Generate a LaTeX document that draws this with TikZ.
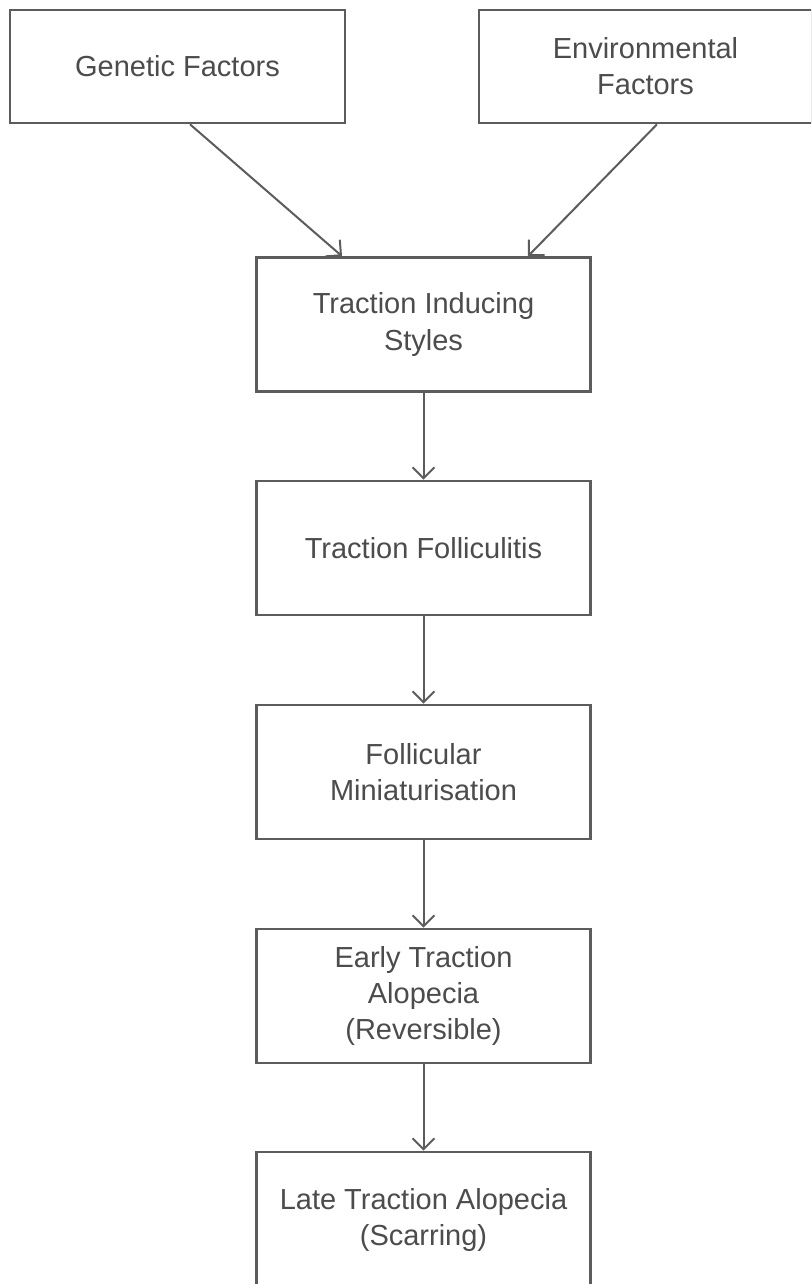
\documentclass[tikz,border=0pt]{standalone}
\usepackage{fontspec}
\setmainfont{Liberation Sans}
\usetikzlibrary{arrows.meta}
\definecolor{edgegray}{rgb}{0.36,0.36,0.36}
\definecolor{textgray}{rgb}{0.30,0.30,0.30}
\tikzset{
  box/.style={draw=edgegray, line width=2.6pt, rectangle, inner sep=0pt,
    minimum width=334pt, minimum height=134pt, align=center,
    text=textgray, font=\fontsize{29}{36}\selectfont},
  link/.style={draw=edgegray, line width=2pt,
    -{Straight Barb[length=11pt, width=22pt, line width=2pt]}}
}
\begin{document}
\begin{tikzpicture}[x=1pt, y=-1pt]
  \useasboundingbox (0,0) rectangle (811,1284);
  \clip (0,0) rectangle (811,1284);
  \fill[white] (0,0) rectangle (811,1284);

  \node[box, minimum width=335pt, minimum height=113pt] (gen) at (177.5,66.5) {Genetic Factors};
  \node[box, minimum width=333pt, minimum height=113pt] (env) at (645.5,66.5) {Environmental\\Factors};

  \node[box] (tis) at (423.5,324.5) {Traction Inducing\\Styles};
  \node[box] (fol) at (423.5,548) {Traction Folliculitis};
  \node[box] (min) at (423.5,772) {Follicular\\Miniaturisation};
  \node[box] (early) at (423.5,996) {Early Traction\\Alopecia\\(Reversible)};
  \node[box, minimum height=136pt] (late) at (423.5,1220) {Late Traction Alopecia\\(Scarring)};

  \draw[link] ([xshift=12.5pt]gen.south) -- ([xshift=-81.5pt]tis.north);
  \draw[link] ([xshift=11.5pt]env.south) -- ([xshift=104.5pt]tis.north);
  \draw[link] (tis) -- (fol);
  \draw[link] (fol) -- (min);
  \draw[link] (min) -- (early);
  \draw[link] (early) -- (late);
\end{tikzpicture}
\end{document}
